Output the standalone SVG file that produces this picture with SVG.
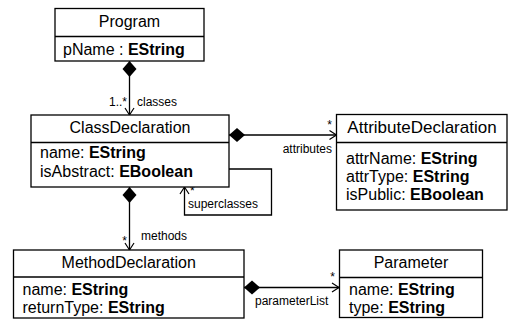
<svg xmlns="http://www.w3.org/2000/svg" width="510" height="322" viewBox="0 0 510 322">
<style>
  .box{fill:#fff;stroke:#000;stroke-width:1.3}
  .t{font-family:"Liberation Sans",Arial,sans-serif;font-size:16px;fill:#000}
  .c{text-anchor:middle}
  .b{font-weight:bold}
  .lbl{font-family:"Liberation Sans",Arial,sans-serif;font-size:12px;fill:#000}
  .con{fill:none;stroke:#000;stroke-width:1.3}
</style>
<defs>
  <marker id="diamond" markerUnits="userSpaceOnUse" viewBox="0 -8 18 16" refX="0" refY="0" markerWidth="18" markerHeight="16" orient="auto" overflow="visible">
    <path d="M0,0 L8,-7 L16,0 L8,7 Z" fill="#000"/>
  </marker>
  <marker id="arrow" markerUnits="userSpaceOnUse" viewBox="-10 -6 12 12" refX="0" refY="0" markerWidth="12" markerHeight="12" orient="auto" overflow="visible">
    <path d="M-7,-4.5 L0,0 L-7,4.5" fill="none" stroke="#000" stroke-width="1.2"/>
  </marker>
</defs>
<rect width="510" height="322" fill="#fff"/>

<g id="connectors">
  <path class="con" d="M129.5,61 L129.5,115" marker-start="url(#diamond)" marker-end="url(#arrow)"/>
  <path class="con" d="M229,135 L336.5,135" marker-start="url(#diamond)" marker-end="url(#arrow)"/>
  <path class="con" d="M229,169 L271.5,169 L271.5,215 L184.5,215 L184.5,187" marker-end="url(#arrow)"/>
  <path class="con" d="M129.5,187 L129.5,250" marker-start="url(#diamond)" marker-end="url(#arrow)"/>
  <path class="con" d="M244,287.5 L339,287.5" marker-start="url(#diamond)" marker-end="url(#arrow)"/>
  <text class="lbl" x="127" y="106" text-anchor="end">1..*</text>
  <text class="lbl" x="137" y="106">classes</text>
  <text class="lbl" x="332" y="129" text-anchor="end">*</text>
  <text class="lbl" x="332" y="153" text-anchor="end">attributes</text>
  <text class="lbl" x="190" y="195">*</text>
  <text class="lbl" x="188" y="208">superclasses</text>
  <text class="lbl" x="127" y="245" text-anchor="end">*</text>
  <text class="lbl" x="141" y="240">methods</text>
  <text class="lbl" x="335" y="281" text-anchor="end">*</text>
  <text class="lbl" x="255" y="305">parameterList</text>
</g>

<g id="Program">
  <rect class="box" x="55" y="8.5" width="149" height="52.5"/>
  <line class="con" x1="55" y1="36.5" x2="204" y2="36.5"/>
  <text class="t c" x="129.5" y="27">Program</text>
  <text class="t" x="63" y="55">pName : <tspan class="b">EString</tspan></text>
</g>

<g id="ClassDeclaration">
  <rect class="box" x="31" y="115" width="198" height="72"/>
  <line class="con" x1="31" y1="142.5" x2="229" y2="142.5"/>
  <text class="t c" x="130" y="133">ClassDeclaration</text>
  <text class="t" x="40" y="158">name: <tspan class="b">EString</tspan></text>
  <text class="t" x="40" y="176.5">isAbstract: <tspan class="b">EBoolean</tspan></text>
</g>

<g id="AttributeDeclaration">
  <rect class="box" x="336.5" y="114.5" width="170.5" height="95.5"/>
  <line class="con" x1="336.5" y1="142.5" x2="507" y2="142.5"/>
  <text class="t c" x="422" y="133" style="font-size:17px">AttributeDeclaration</text>
  <text class="t" x="346" y="163.5">attrName: <tspan class="b">EString</tspan></text>
  <text class="t" x="346" y="182">attrType:  <tspan class="b">EString</tspan></text>
  <text class="t" x="346" y="200">isPublic: <tspan class="b">EBoolean</tspan></text>
</g>

<g id="MethodDeclaration">
  <rect class="box" x="13.5" y="250" width="230.5" height="68"/>
  <line class="con" x1="13.5" y1="277" x2="244" y2="277"/>
  <text class="t c" x="128.7" y="268">MethodDeclaration</text>
  <text class="t" x="22.5" y="295">name: <tspan class="b">EString</tspan></text>
  <text class="t" x="22.5" y="313">returnType: <tspan class="b">EString</tspan></text>
</g>

<g id="Parameter">
  <rect class="box" x="339.5" y="250" width="143" height="67.5"/>
  <line class="con" x1="339.5" y1="277.5" x2="482.5" y2="277.5"/>
  <text class="t c" x="411" y="268">Parameter</text>
  <text class="t" x="349" y="295">name: <tspan class="b">EString</tspan></text>
  <text class="t" x="349" y="313">type: <tspan class="b">EString</tspan></text>
</g>
</svg>
